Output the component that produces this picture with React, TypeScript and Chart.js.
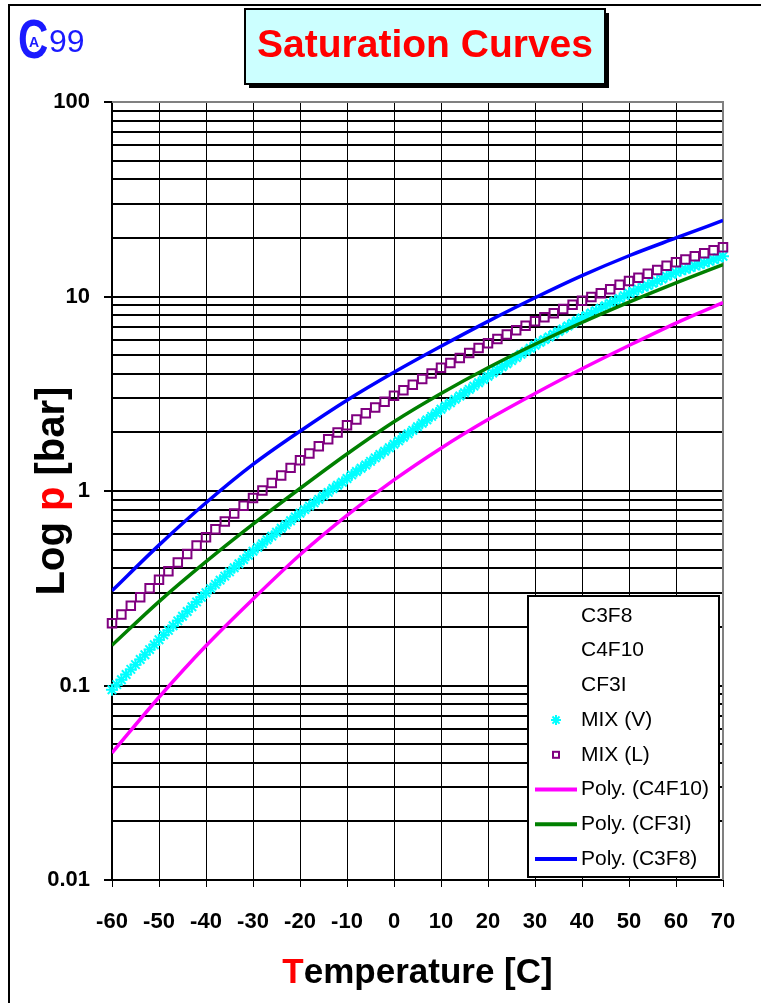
import React, { useEffect, useRef } from "react";
import { Chart, registerables } from "chart.js";

Chart.register(...registerables);

const FONT = "'Liberation Sans', Arial, Helvetica, sans-serif";
const W = 761;
const H = 1003;

// ---------- data ----------
const polyTemps = [-60, -50, -40, -30, -20, -10, 0, 10, 20, 30, 40, 50, 60, 70];
const polyC3F8 = [0.307, 0.527, 0.87, 1.37, 2.03, 2.93, 4.08, 5.55, 7.45, 9.85, 12.8, 16.2, 20.0, 24.6];
const polyCF3I = [0.161, 0.27, 0.433, 0.675, 1.03, 1.55, 2.27, 3.17, 4.3, 5.68, 7.35, 9.35, 11.75, 14.6];
const polyC4F10 = [0.045, 0.087, 0.16, 0.278, 0.47, 0.75, 1.14, 1.66, 2.33, 3.17, 4.25, 5.6, 7.3, 9.3];

const mixLTemps = [
  -60, -58, -56, -54, -52, -50, -48, -46, -44, -42, -40, -38, -36, -34, -32, -30, -28, -26, -24, -22,
  -20, -18, -16, -14, -12, -10, -8, -6, -4, -2, 0, 2, 4, 6, 8, 10, 12, 14, 16, 18,
  20, 22, 24, 26, 28, 30, 32, 34, 36, 38, 40, 42, 44, 46, 48, 50, 52, 54, 56, 58,
  60, 62, 64, 66, 68, 70,
];
const mixLValues = [
  0.209, 0.232, 0.257, 0.284, 0.316, 0.35, 0.387, 0.429, 0.474, 0.524, 0.579, 0.635, 0.697, 0.766, 0.839, 0.92, 1.007, 1.1, 1.2, 1.315,
  1.44, 1.56, 1.7, 1.845, 2.0, 2.18, 2.33, 2.51, 2.69, 2.88, 3.09, 3.3, 3.52, 3.77, 4.02, 4.3, 4.55, 4.83, 5.12, 5.43,
  5.75, 6.05, 6.38, 6.71, 7.08, 7.45, 7.82, 8.2, 8.63, 9.06, 9.51, 9.95, 10.4, 10.9, 11.5, 12.0, 12.5, 13.1, 13.7, 14.4,
  15.0, 15.5, 16.1, 16.7, 17.3, 17.9,
];

const mixVTemps = [
  -60, -59, -58, -57, -56, -55, -54, -53, -52, -51,
  -50, -49, -48, -47, -46, -45, -44, -43, -42, -41,
  -40, -39, -38, -37, -36, -35, -34, -33, -32, -31,
  -30, -29, -28, -27, -26, -25, -24, -23, -22, -21,
  -20, -19, -18, -17, -16, -15, -14, -13, -12, -11,
  -10, -9, -8, -7, -6, -5, -4, -3, -2, -1,
  0, 1, 2, 3, 4, 5, 6, 7, 8, 9,
  10, 11, 12, 13, 14, 15, 16, 17, 18, 19,
  20, 21, 22, 23, 24, 25, 26, 27, 28, 29,
  30, 31, 32, 33, 34, 35, 36, 37, 38, 39,
  40, 41, 42, 43, 44, 45, 46, 47, 48, 49,
  50, 51, 52, 53, 54, 55, 56, 57, 58, 59,
  60, 61, 62, 63, 64, 65, 66, 67, 68, 69, 70,
];
const mixVValues = [
  0.0951, 0.101, 0.107, 0.114, 0.121, 0.128, 0.136, 0.144, 0.153, 0.162,
  0.172, 0.182, 0.192, 0.203, 0.215, 0.227, 0.24, 0.254, 0.269, 0.284,
  0.3, 0.315, 0.331, 0.348, 0.365, 0.384, 0.403, 0.423, 0.444, 0.467,
  0.49, 0.513, 0.536, 0.561, 0.586, 0.614, 0.643, 0.671, 0.703, 0.735,
  0.769, 0.802, 0.836, 0.869, 0.906, 0.944, 0.984, 1.03, 1.07, 1.11,
  1.16, 1.21, 1.26, 1.31, 1.36, 1.42, 1.48, 1.54, 1.6, 1.67,
  1.74, 1.81, 1.89, 1.97, 2.05, 2.14, 2.23, 2.32, 2.42, 2.52,
  2.63, 2.74, 2.84, 2.96, 3.08, 3.2, 3.33, 3.46, 3.6, 3.74,
  3.89, 4.04, 4.19, 4.35, 4.51, 4.68, 4.85, 5.04, 5.22, 5.42,
  5.62, 5.81, 6.0, 6.19, 6.4, 6.61, 6.82, 7.05, 7.28, 7.52,
  7.76, 7.99, 8.22, 8.46, 8.71, 8.96, 9.23, 9.5, 9.77, 10.1,
  10.4, 10.6, 10.9, 11.2, 11.4, 11.7, 12.0, 12.3, 12.7, 13.0,
  13.3, 13.6, 13.8, 14.1, 14.4, 14.6, 14.9, 15.2, 15.5, 15.8, 16.1,
];

const xMin = -60;
const xMax = 70;
const xStep = 10;
const yMajorTicks = [0.01, 0.1, 1, 10, 100];
const yMajorLabels = ["0.01", "0.1", "1", "10", "100"];
const yMinorMultipliers = [2, 3, 4, 5, 6, 7, 8, 9];

const titleText = "Saturation Curves";
const xTitleParts = [
  { t: "T", c: "#FF0000" },
  { t: "emperature [C]", c: "#000000" },
];
const yTitleParts = [
  { t: "Log ", c: "#000000" },
  { t: "p", c: "#FF0000" },
  { t: " [bar]", c: "#000000" },
];

// ---------- helpers ----------
const yTickValues: number[] = [];
yMajorTicks.forEach((m, i) => {
  yTickValues.push(m);
  if (i < yMajorTicks.length - 1) {
    yMinorMultipliers.forEach((k) => yTickValues.push(Number((m * k).toPrecision(6))));
  }
});
const majorIndex = (v: number) =>
  yMajorTicks.findIndex((m) => Math.abs(Math.log10(v) - Math.log10(m)) < 1e-6);

const pts = (xs: number[], ys: number[]) => xs.map((x, i) => ({ x, y: ys[i] }));

function drawStar(ctx: CanvasRenderingContext2D, x: number, y: number, r: number) {
  ctx.beginPath();
  ctx.moveTo(x - r, y);
  ctx.lineTo(x + r, y);
  ctx.moveTo(x, y - r);
  ctx.lineTo(x, y + r);
  const d = r * Math.SQRT1_2;
  ctx.moveTo(x - d, y - d);
  ctx.lineTo(x + d, y + d);
  ctx.moveTo(x - d, y + d);
  ctx.lineTo(x + d, y - d);
  ctx.stroke();
}

const decorPlugin = {
  id: "decor",
  beforeDraw(chart: any) {
    const ctx = chart.ctx as CanvasRenderingContext2D;
    ctx.save();
    ctx.fillStyle = "#ffffff";
    ctx.fillRect(0, 0, chart.width, chart.height);
    ctx.restore();
  },
  beforeDatasetsDraw(chart: any) {
    const ctx = chart.ctx as CanvasRenderingContext2D;
    const a = chart.chartArea;
    ctx.save();
    ctx.strokeStyle = "#808080";
    ctx.lineWidth = 2;
    ctx.beginPath();
    ctx.moveTo(a.left, a.top);
    ctx.lineTo(a.right, a.top);
    ctx.lineTo(a.right, a.bottom);
    ctx.stroke();
    ctx.restore();
  },
  afterDraw(chart: any) {
    const ctx = chart.ctx as CanvasRenderingContext2D;
    const a = chart.chartArea;
    ctx.save();

    // outer frame
    ctx.strokeStyle = "#000";
    ctx.lineWidth = 2;
    ctx.beginPath();
    ctx.moveTo(9, H);
    ctx.lineTo(9, 5);
    ctx.lineTo(W, 5);
    ctx.stroke();

    // logo
    ctx.fillStyle = "#1a1aff";
    ctx.textBaseline = "alphabetic";
    ctx.textAlign = "left";
    ctx.save();
    ctx.translate(18, 58);
    ctx.scale(0.75, 1);
    ctx.font = `bold 56px ${FONT}`;
    ctx.fillText("C", 0, 0);
    ctx.restore();
    ctx.font = `bold 14px ${FONT}`;
    ctx.fillText("A", 29, 47);
    ctx.font = `32px ${FONT}`;
    ctx.fillText("99", 49, 52);

    // title box
    ctx.fillStyle = "#000";
    ctx.fillRect(249, 13, 360, 75);
    ctx.fillStyle = "#CCFFFF";
    ctx.fillRect(245, 9, 360, 75);
    ctx.strokeStyle = "#000";
    ctx.lineWidth = 2;
    ctx.strokeRect(245, 9, 360, 75);
    ctx.fillStyle = "#FF0000";
    ctx.font = `bold 39px ${FONT}`;
    ctx.textAlign = "center";
    ctx.textBaseline = "middle";
    ctx.fillText(titleText, 425, 46);

    // x title
    ctx.textAlign = "left";
    ctx.textBaseline = "alphabetic";
    ctx.font = `bold 35px ${FONT}`;
    let total = xTitleParts.reduce((s, p) => s + ctx.measureText(p.t).width, 0);
    let cx = (a.left + a.right) / 2 - total / 2;
    xTitleParts.forEach((p) => {
      ctx.fillStyle = p.c;
      ctx.fillText(p.t, cx, 983);
      cx += ctx.measureText(p.t).width;
    });

    // y title
    ctx.save();
    ctx.translate(64, (a.top + a.bottom) / 2);
    ctx.rotate(-Math.PI / 2);
    ctx.font = `bold 40px ${FONT}`;
    total = yTitleParts.reduce((s, p) => s + ctx.measureText(p.t).width, 0);
    cx = -total / 2;
    yTitleParts.forEach((p) => {
      ctx.fillStyle = p.c;
      ctx.fillText(p.t, cx, 0);
      cx += ctx.measureText(p.t).width;
    });
    ctx.restore();

    // legend
    const lx = 528, ly = 596, lw = 191, lh = 281;
    ctx.fillStyle = "#fff";
    ctx.fillRect(lx, ly, lw, lh);
    ctx.strokeStyle = "#000";
    ctx.lineWidth = 2;
    ctx.strokeRect(lx, ly, lw, lh);
    ctx.font = `21px ${FONT}`;
    ctx.textBaseline = "middle";
    ctx.textAlign = "left";
    chart.data.datasets.forEach((ds: any, i: number) => {
      const y = 616 + i * 34.7;
      if (ds.showLine !== false) {
        ctx.strokeStyle = ds.borderColor;
        ctx.lineWidth = 4;
        ctx.beginPath();
        ctx.moveTo(535, y);
        ctx.lineTo(577, y);
        ctx.stroke();
      } else if (ds.pointRadius > 0) {
        ctx.strokeStyle = ds.pointBorderColor;
        ctx.lineWidth = ds.pointBorderWidth;
        if (ds.pointStyle === "star") {
          drawStar(ctx, 556, y, 5);
        } else {
          ctx.strokeRect(553, y - 3, 6, 6);
        }
      }
      ctx.fillStyle = "#000";
      ctx.fillText(ds.label, 581, y);
    });

    ctx.restore();
  },
};

export default function App() {
  const ref = useRef<HTMLCanvasElement>(null);

  useEffect(() => {
    if (!ref.current) return;
    const tickFont = { family: FONT, size: 22, weight: "bold" as const };
    const chart = new Chart(ref.current, {
      type: "line",
      data: {
        datasets: [
          { label: "C3F8", data: [], showLine: false, pointRadius: 0 },
          { label: "C4F10", data: [], showLine: false, pointRadius: 0 },
          { label: "CF3I", data: [], showLine: false, pointRadius: 0 },
          {
            label: "MIX (V)",
            data: pts(mixVTemps, mixVValues),
            showLine: false,
            pointStyle: "star",
            pointRadius: 6,
            pointBorderColor: "#00FFFF",
            pointBackgroundColor: "#00FFFF",
            pointBorderWidth: 2,
            borderColor: "#00FFFF",
            clip: false,
            order: 3,
          },
          {
            label: "MIX (L)",
            data: pts(mixLTemps, mixLValues),
            showLine: false,
            pointStyle: "rect",
            pointRadius: 6,
            pointBorderColor: "#800080",
            pointBackgroundColor: "rgba(0,0,0,0)",
            pointBorderWidth: 2,
            borderColor: "#800080",
            clip: false,
            order: 2,
          },
          {
            label: "Poly. (C4F10)",
            data: pts(polyTemps, polyC4F10),
            borderColor: "#FF00FF",
            borderWidth: 3.5,
            pointRadius: 0,
            cubicInterpolationMode: "monotone",
            order: 1,
          },
          {
            label: "Poly. (CF3I)",
            data: pts(polyTemps, polyCF3I),
            borderColor: "#008000",
            borderWidth: 3.5,
            pointRadius: 0,
            cubicInterpolationMode: "monotone",
            order: 1,
          },
          {
            label: "Poly. (C3F8)",
            data: pts(polyTemps, polyC3F8),
            borderColor: "#0000FF",
            borderWidth: 3.5,
            pointRadius: 0,
            cubicInterpolationMode: "monotone",
            order: 1,
          },
        ] as any,
      },
      options: {
        responsive: false,
        animation: false,
        devicePixelRatio: 1,
        layout: { padding: { left: 0, top: 102, right: 38, bottom: 0 } },
        plugins: {
          legend: { display: false },
          tooltip: { enabled: false },
          title: { display: false },
        },
        scales: {
          x: {
            type: "linear",
            min: xMin,
            max: xMax,
            afterFit: (s: any) => {
              s.height = 123;
            },
            ticks: {
              stepSize: xStep,
              autoSkip: false,
              maxRotation: 0,
              font: tickFont,
              color: "#000",
              padding: 22,
            },
            grid: {
              color: "#000",
              lineWidth: 1,
              tickLength: 7,
              tickColor: "#000",
              tickWidth: 1,
            },
            border: { display: true, color: "#000", width: 2 },
          },
          y: {
            type: "logarithmic",
            min: 0.01,
            max: 100,
            afterFit: (s: any) => {
              s.width = 112;
            },
            afterBuildTicks: (s: any) => {
              s.ticks = yTickValues.map((v) => ({ value: v, major: majorIndex(v) >= 0 }));
            },
            ticks: {
              autoSkip: false,
              font: tickFont,
              color: "#000",
              padding: 14,
              callback: (v: any) => {
                const idx = majorIndex(Number(v));
                return idx >= 0 ? yMajorLabels[idx] : "";
              },
            },
            grid: {
              color: "#000",
              lineWidth: 2,
              tickLength: 8,
              tickWidth: 2,
              tickColor: (c: any) =>
                c.tick && majorIndex(c.tick.value) >= 0 ? "#000" : "rgba(0,0,0,0)",
            },
            border: { display: true, color: "#000", width: 2 },
          },
        },
      } as any,
      plugins: [decorPlugin],
    });
    return () => chart.destroy();
  }, []);

  return (
    <div style={{ position: "absolute", left: 0, top: 0, width: W, height: H, background: "#fff" }}>
      <canvas ref={ref} width={W} height={H} style={{ display: "block", width: W, height: H }} />
    </div>
  );
}
